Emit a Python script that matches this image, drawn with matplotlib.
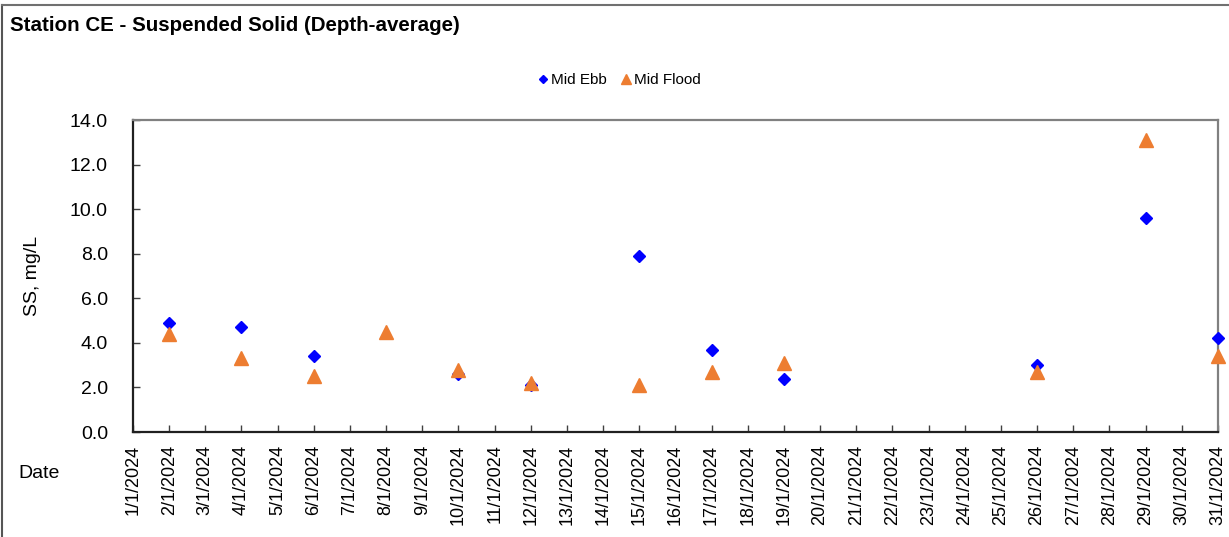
import pandas as pd
import matplotlib
matplotlib.use("Agg")
import matplotlib.pyplot as plt
from matplotlib.lines import Line2D

plt.rcParams['font.family'] = ['Liberation Sans', 'DejaVu Sans']

# data
days = pd.date_range("2024-01-01", "2024-01-31", freq="D")
tick_labels = [f"{d.day}/{d.month}/{d.year}" for d in days]

ebb_dates = pd.to_datetime(["2024-01-02", "2024-01-04", "2024-01-06", "2024-01-10", "2024-01-12",
                            "2024-01-15", "2024-01-17", "2024-01-19", "2024-01-26", "2024-01-29",
                            "2024-01-31"])
ebb_ss = [4.9, 4.7, 3.4, 2.6, 2.1, 7.9, 3.7, 2.4, 3.0, 9.6, 4.2]

flood_dates = pd.to_datetime(["2024-01-02", "2024-01-04", "2024-01-06", "2024-01-08", "2024-01-10",
                              "2024-01-12", "2024-01-15", "2024-01-17", "2024-01-19", "2024-01-26",
                              "2024-01-29", "2024-01-31"])
flood_ss = [4.4, 3.3, 2.5, 4.5, 2.8, 2.2, 2.1, 2.7, 3.1, 2.7, 13.1, 3.4]

fig = plt.figure(figsize=(12.29, 5.37), dpi=100)
ax = fig.add_axes([0.1082, 0.1955, 0.8828, 0.581])

ax.plot(ebb_dates, ebb_ss, linestyle='none', marker='D', markersize=6.2, color='#0000FF',
        label='Mid Ebb', zorder=3, clip_on=False)
ax.plot(flood_dates, flood_ss, linestyle='none', marker='^', markersize=9.5, color='#ED7D31',
        label='Mid Flood', zorder=3, clip_on=False)

ax.set_xlim(days[0], days[-1])
ax.set_ylim(0, 14)
ax.set_xticks(days)
ax.set_xticklabels(tick_labels, rotation=90, fontsize=13)
ax.set_yticks(range(0, 15, 2))
ax.set_yticklabels([f"{v:.1f}" for v in range(0, 15, 2)], fontsize=14)
ax.tick_params(direction='in', length=5, width=1, color='#404040')
ax.tick_params(axis='y', pad=18)
ax.tick_params(axis='x', pad=9)

for s in ['left', 'bottom']:
    ax.spines[s].set_color('#202020')
    ax.spines[s].set_linewidth(1.6)
for s in ['top', 'right']:
    ax.spines[s].set_color('#808080')
    ax.spines[s].set_linewidth(1.6)

ax.set_ylabel("SS, mg/L", fontsize=14)
ax.yaxis.set_label_coords(-0.085, 0.5)

fig.text(0.0085, 0.952, "Station CE - Suspended Solid (Depth-average)", fontsize=14.8,
         fontweight='bold', ha='left', va='center')
fig.text(0.015, 0.118, "Date", fontsize=14, ha='left', va='center')

handles = [
    Line2D([], [], linestyle='none', marker='D', markersize=4.5, color='#0000FF'),
    Line2D([], [], linestyle='none', marker='^', markersize=6.5, color='#ED7D31'),
]
fig.legend(handles, ['Mid Ebb', 'Mid Flood'], loc='center', bbox_to_anchor=(0.504, 0.851),
           ncol=2, frameon=False, fontsize=11, handlelength=0.6, handletextpad=0.2,
           columnspacing=1.0)

# outer chart border (top and left visible)
fig.add_artist(Line2D([0.0015, 0.0015], [0, 0.99], transform=fig.transFigure,
                      color='#555555', linewidth=1.5))
fig.add_artist(Line2D([0.0015, 1.0], [0.99, 0.99], transform=fig.transFigure,
                      color='#707070', linewidth=1.5))

fig.savefig("out.png", dpi=100)
